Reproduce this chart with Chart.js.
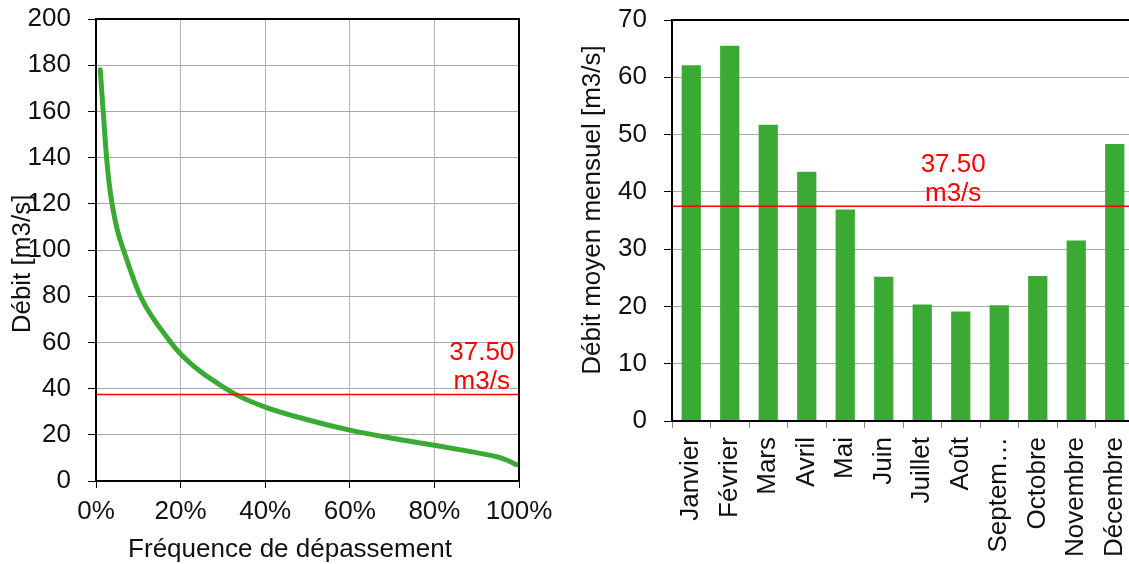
<!DOCTYPE html>
<html lang="fr">
<head>
<meta charset="utf-8">
<title>Débits</title>
<script src="https://cdn.jsdelivr.net/npm/chart.js@4/dist/chart.umd.min.js"></script>
<style>
  html, body { margin: 0; padding: 0; background: #fff; overflow: hidden; }
  #wrap { position: relative; width: 1129px; height: 564px; overflow: hidden; }
  #left { position: absolute; left: 0; top: 0; }
  #right { position: absolute; left: 565px; top: 0; }
</style>
</head>
<body>
<div id="wrap">
  <canvas id="left" width="565" height="564"></canvas>
  <canvas id="right" width="600" height="564"></canvas>
</div>
<script>
// Courbe des débits classés
const exceedance = [1, 1.7, 2.5, 3.1, 3.8, 5, 6.5, 10.5, 17.7, 20, 24.6, 29, 33, 40, 50, 60, 70, 80, 89, 93, 96, 98, 99.2, 100];
const discharge  = [178, 160, 140, 129, 120, 109, 100, 80, 60, 55, 47.5, 42, 37.5, 32, 26.5, 22, 18.5, 15.5, 12.6, 11.2, 9.8, 8.3, 7.2, 7];
const percentTicks = [0, 20, 40, 60, 80, 100];

// Débits moyens mensuels
const months = ['Janvier', 'Février', 'Mars', 'Avril', 'Mai', 'Juin', 'Juillet', 'Août', 'Septembre', 'Octobre', 'Novembre', 'Décembre'];
const monthlyMean = [62.1, 65.5, 51.7, 43.5, 36.9, 25.2, 20.35, 19.1, 20.2, 25.3, 31.5, 48.35];

// Débit de référence
const referenceFlow = 37.5;
const flowUnit = 'm3/s';

const FONT = "'Liberation Sans', Arial, sans-serif";
const GREEN = '#3aaa35';
const RED = '#ff0000';
const TEXT = '#111';

Chart.defaults.font.family = FONT;
Chart.defaults.font.size = 26;
Chart.defaults.color = TEXT;
Chart.defaults.animation = false;

// Ligne de référence, cadre et titres d'axes
const decor = {
  id: 'decor',
  afterDatasetsDraw(chart, args, o) {
    const { ctx, chartArea: a, scales } = chart;
    const y = scales.y.getPixelForValue(referenceFlow);
    ctx.save();
    ctx.strokeStyle = RED;
    ctx.lineWidth = 1.5;
    ctx.beginPath();
    ctx.moveTo(a.left, y);
    ctx.lineTo(a.right, y);
    ctx.stroke();
    const lx = a.left + (a.right - a.left) * o.labelAt;
    ctx.fillStyle = RED;
    ctx.font = '26px ' + FONT;
    ctx.textAlign = 'center';
    ctx.textBaseline = 'alphabetic';
    ctx.fillText(referenceFlow.toFixed(2), lx, y - 34);
    ctx.fillText(flowUnit, lx, y - 5);
    ctx.restore();
  },
  afterDraw(chart, args, o) {
    const { ctx, chartArea: a } = chart;
    ctx.save();
    ctx.strokeStyle = '#000';
    ctx.lineWidth = 2;
    ctx.strokeRect(a.left, a.top, a.right - a.left, a.bottom - a.top);
    ctx.fillStyle = TEXT;
    ctx.font = '26px ' + FONT;
    ctx.textAlign = 'center';
    ctx.textBaseline = 'middle';
    if (o.yTitle) {
      ctx.save();
      ctx.translate(o.yTitle.x, o.yTitle.y);
      ctx.rotate(-Math.PI / 2);
      ctx.fillText(o.yTitle.text, 0, 0);
      ctx.restore();
    }
    if (o.xTitle) {
      ctx.fillText(o.xTitle.text, o.xTitle.x, o.xTitle.y);
    }
    ctx.restore();
  }
};

// Fixed axis sizes, without label overhang
const fixWidth = w => s => { s.width = w; s.paddingTop = 0; s.paddingBottom = 0; };
const fixHeight = h => s => { s.height = h; s.paddingLeft = 0; s.paddingRight = 0; };

new Chart(document.getElementById('left'), {
  type: 'line',
  data: {
    datasets: [{
      data: exceedance.map((p, i) => ({ x: p, y: discharge[i] })),
      borderColor: GREEN,
      borderWidth: 5,
      borderCapStyle: 'round',
      borderJoinStyle: 'round',
      pointRadius: 0,
      cubicInterpolationMode: 'monotone',
      fill: false
    }]
  },
  options: {
    responsive: false,
    layout: { padding: { top: 19, right: 46, left: 0, bottom: 0 } },
    plugins: {
      legend: { display: false },
      tooltip: { enabled: false },
      decor: {
        labelAt: 0.912,
        yTitle: { text: 'Débit [m3/s]', x: 23, y: 264 },
        xTitle: { text: 'Fréquence de dépassement', x: 290, y: 550 }
      }
    },
    scales: {
      x: {
        type: 'linear',
        min: 0, max: 100,
        afterFit: fixHeight(83),
        afterBuildTicks(s) { s.ticks = percentTicks.map(v => ({ value: v })); },
        ticks: { padding: 8, callback: v => v + '%', maxRotation: 0 },
        grid: { color: '#b4b4b4', lineWidth: 1, tickLength: 7, tickColor: '#000' },
        border: { display: true, color: '#000', width: 2 }
      },
      y: {
        min: 0, max: 200,
        afterFit: fixWidth(96),
        ticks: { stepSize: 20, padding: 17 },
        grid: { color: '#a8a8a8', lineWidth: 1, tickLength: 8, tickColor: '#000' },
        border: { display: true, color: '#000', width: 2 }
      }
    }
  },
  plugins: [decor]
});

new Chart(document.getElementById('right'), {
  type: 'bar',
  data: {
    labels: months,
    datasets: [{
      data: monthlyMean,
      backgroundColor: GREEN,
      borderWidth: 0,
      barPercentage: 0.5,
      categoryPercentage: 1.0
    }]
  },
  options: {
    responsive: false,
    layout: { padding: { top: 20, right: 31, left: 0, bottom: 0 } },
    plugins: {
      legend: { display: false },
      tooltip: { enabled: false },
      decor: {
        labelAt: 0.6086,
        yTitle: { text: 'Débit moyen mensuel [m3/s]', x: 28, y: 210 }
      }
    },
    scales: {
      x: {
        afterFit: fixHeight(143),
        ticks: {
          autoSkip: false,
          minRotation: 90,
          maxRotation: 90,
          padding: 9,
          callback(v) {
            const name = this.getLabelForValue(v);
            return name.length > 8 ? name.slice(0, 6) + '…' : name;
          }
        },
        grid: { drawOnChartArea: false, drawTicks: true, tickLength: 7, color: '#888' },
        border: { display: true, color: '#000', width: 2 }
      },
      y: {
        min: 0, max: 70,
        afterFit: fixWidth(107),
        ticks: { stepSize: 10, padding: 17 },
        grid: { color: '#a8a8a8', lineWidth: 1, tickLength: 8, tickColor: '#000' },
        border: { display: true, color: '#000', width: 2 }
      }
    }
  },
  plugins: [decor]
});
</script>
</body>
</html>
